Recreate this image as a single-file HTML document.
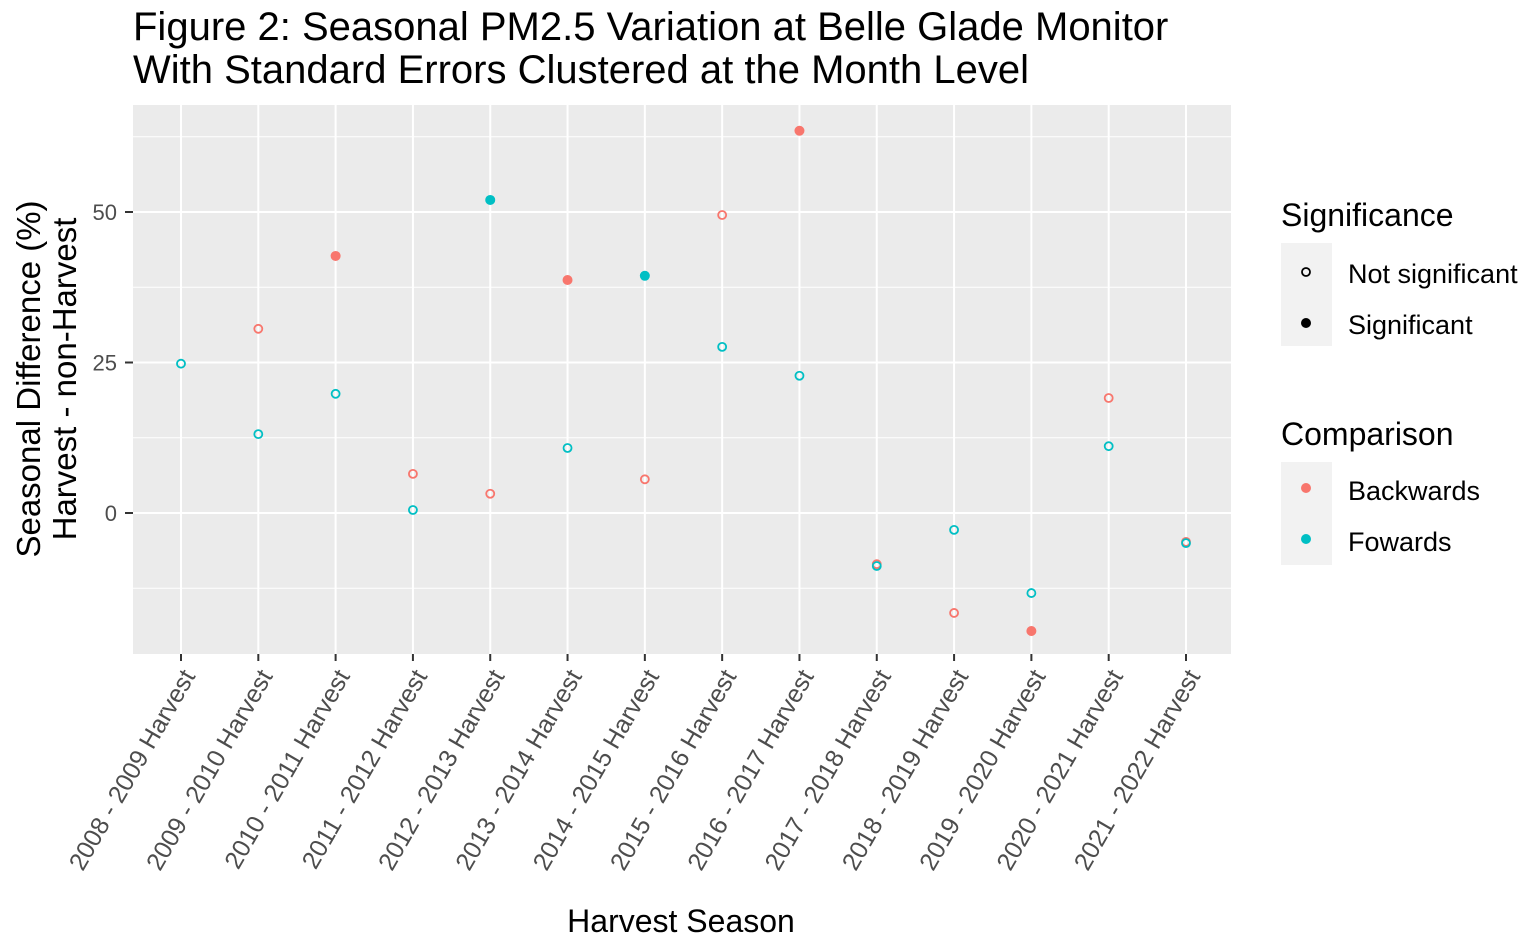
<!DOCTYPE html>
<html><head><meta charset="utf-8"><style>
body{margin:0;background:#fff;}
svg text{font-family:"Liberation Sans",sans-serif;}
</style></head><body>
<svg width="1531" height="944" viewBox="0 0 1531 944">
<text x="133" y="40" font-size="40" fill="#000">Figure 2: Seasonal PM2.5 Variation at Belle Glade Monitor</text>
<text x="133" y="83" font-size="40" fill="#000">With Standard Errors Clustered at the Month Level</text>
<rect x="133" y="105" width="1098" height="549" fill="#ebebeb"/>
<g id="grid"></g>
<g id="xticks"></g>
<g id="yticks"></g>
<g id="points"></g>
<text transform="translate(40,379) rotate(-90)" text-anchor="middle" font-size="33">Seasonal Difference (%)</text>
<text transform="translate(76,379) rotate(-90)" text-anchor="middle" font-size="33">Harvest - non-Harvest</text>
<text x="681" y="932" text-anchor="middle" font-size="32">Harvest Season</text>
<g>
<text x="1281" y="226" font-size="32">Significance</text>
<rect x="1281" y="243" width="51" height="103" fill="#f2f2f2"/>
<circle cx="1306" cy="272" r="4" fill="none" stroke="#000" stroke-width="1.8"/>
<circle cx="1306" cy="323" r="5" fill="#000"/>
<text x="1348" y="283" font-size="27">Not significant</text>
<text x="1348" y="334" font-size="27">Significant</text>
</g>
<g>
<text x="1281" y="445" font-size="32">Comparison</text>
<rect x="1281" y="462" width="51" height="103" fill="#f2f2f2"/>
<circle cx="1306" cy="488" r="5" fill="#F8766D"/>
<circle cx="1306" cy="539" r="5" fill="#00BFC4"/>
<text x="1348" y="500" font-size="27">Backwards</text>
<text x="1348" y="551" font-size="27">Fowards</text>
</g>
</svg>
<script>
const categories=["2008 - 2009 Harvest","2009 - 2010 Harvest","2010 - 2011 Harvest","2011 - 2012 Harvest","2012 - 2013 Harvest","2013 - 2014 Harvest","2014 - 2015 Harvest","2015 - 2016 Harvest","2016 - 2017 Harvest","2017 - 2018 Harvest","2018 - 2019 Harvest","2019 - 2020 Harvest","2020 - 2021 Harvest","2021 - 2022 Harvest"];
const backwardsValues=[null,30.6,42.7,6.5,3.2,38.7,5.6,49.5,63.5,-8.5,-16.6,-19.6,19.1,-4.8];
const backwardsSig=[null,false,true,false,false,true,false,false,true,false,false,true,false,false];
const fowardsValues=[24.8,13.1,19.8,0.5,52.0,10.8,39.4,27.6,22.8,-8.8,-2.8,-13.3,11.1,-5.0];
const fowardsSig=[false,false,false,false,true,false,true,false,false,false,false,false,false,false];
const yTicks=[0,25,50];
const yMinor=[-12.5,12.5,37.5,62.5];
const NS="http://www.w3.org/2000/svg";
const px0=133,px1=1231,py0=105,py1=654;
function xPos(i){return 181+i*(1186-181)/(categories.length-1);}
function yPos(v){return 513-v*(513-212)/50;}
function mk(tag,attrs,parent){const e=document.createElementNS(NS,tag);for(const k in attrs)e.setAttribute(k,attrs[k]);parent.appendChild(e);return e;}
const grid=document.getElementById('grid'),xt=document.getElementById('xticks'),yt=document.getElementById('yticks'),pts=document.getElementById('points');
yMinor.forEach(v=>{const l=mk('line',{x1:px0,x2:px1,y1:yPos(v),y2:yPos(v),stroke:'#fff','stroke-width':1},grid);

});
yTicks.forEach(v=>{const y=yPos(v);const l=mk('line',{x1:px0,x2:px1,y1:y,y2:y,stroke:'#fff','stroke-width':2},grid);


const t=mk('line',{x1:125,x2:133,y1:y,y2:y,stroke:'#333','stroke-width':2},yt);


const tx=mk('text',{x:117,y:y+8,'text-anchor':'end','font-size':22,fill:'#4d4d4d'},yt);tx.textContent=v;

});
categories.forEach((c,i)=>{const x=xPos(i);const l=mk('line',{x1:x,x2:x,y1:py0,y2:py1,stroke:'#fff','stroke-width':2},grid);


const t=mk('line',{x1:x,x2:x,y1:py1,y2:py1+7,stroke:'#333','stroke-width':2},xt);


const tx=mk('text',{transform:`translate(${x+15},${py1+22}) rotate(-60)`,'text-anchor':'end','font-size':25,fill:'#4d4d4d'},xt);tx.textContent=c;

});
function drawSeries(vals,sig,color,name){vals.forEach((v,i)=>{if(v===null)return;const x=xPos(i),y=yPos(v);let c;
if(sig[i])c=mk('circle',{cx:x,cy:y,r:5,fill:color},pts);else c=mk('circle',{cx:x,cy:y,r:4,fill:'none',stroke:color,'stroke-width':1.8},pts);

});}
drawSeries(backwardsValues,backwardsSig,'#F8766D','backwards');
drawSeries(fowardsValues,fowardsSig,'#00BFC4','fowards');
</script>
</body></html>
